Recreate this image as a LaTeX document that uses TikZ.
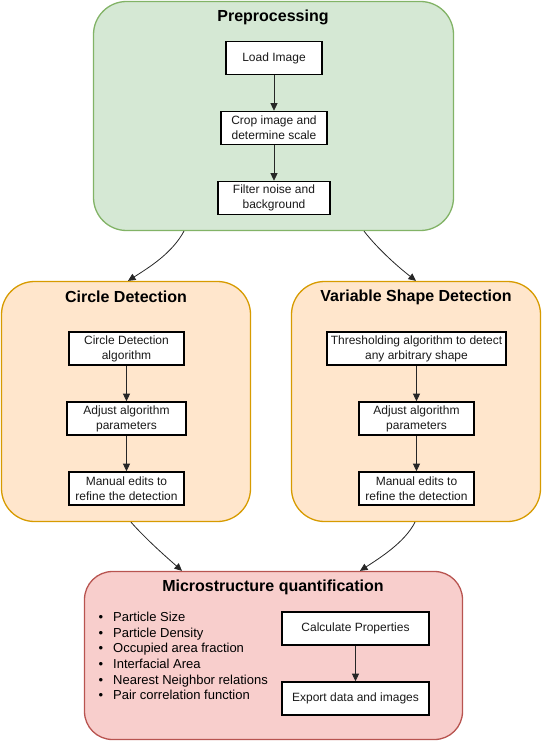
\documentclass[tikz,border=0pt]{standalone}
\usepackage{fontspec}
\setmainfont{Liberation Sans}
\usetikzlibrary{arrows.meta}
\definecolor{greenfill}{HTML}{D5E8D4}
\definecolor{greenline}{HTML}{82B366}
\definecolor{orangefill}{HTML}{FFE6CC}
\definecolor{orangeline}{HTML}{D79B00}
\definecolor{redfill}{HTML}{F8CECC}
\definecolor{redline}{HTML}{B85450}
\definecolor{boxtext}{HTML}{1A1A1A}
\begin{document}
\begin{tikzpicture}[x=1pt,y=-1pt,
  container/.style={draw, line width=1.3pt, inner sep=0pt},
  procbox/.style={draw=black, line width=1.6pt, fill=white, minimum height=33pt,
    inner sep=1pt, align=center, text=boxtext, font=\fontsize{12}{15}\selectfont},
  ttl/.style={font=\fontsize{16}{19}\selectfont\bfseries, inner sep=0pt},
  conn/.style={-{Triangle[length=7.5pt,width=7pt]}, line width=0.8pt, draw=black!85}
]
\useasboundingbox (0,0) rectangle (542,741);

% containers
\node[container, draw=greenline, fill=greenfill, rounded corners=33pt,
      minimum width=360pt, minimum height=229pt] (pre) at (273.5,116) {};
\node[container, draw=orangeline, fill=orangefill, rounded corners=33pt,
      minimum width=249pt, minimum height=240pt] (circ) at (126,401.5) {};
\node[container, draw=orangeline, fill=orangefill, rounded corners=33pt,
      minimum width=249pt, minimum height=240pt] (var) at (416,401.5) {};
\node[container, draw=redline, fill=redfill, rounded corners=28pt,
      minimum width=378pt, minimum height=168pt] (micro) at (273.5,655.5) {};

% titles
\node[ttl] (pretitle) at (273,17) {Preprocessing};
\node[ttl] (circtitle) at (126,297) {Circle Detection};
\node[ttl] (vartitle) at (416,297) {Variable Shape Detection};
\node[ttl] (microtitle) at (273,587) {Microstructure quantification};

% preprocessing steps
\node[procbox, minimum width=95.5pt] (load) at (274,58) {Load Image};
\node[procbox, minimum width=106.5pt] (crop) at (274,128) {Crop image and\\determine scale};
\node[procbox, minimum width=111.5pt] (filt) at (274,198) {Filter noise and\\background};

% circle detection steps
\node[procbox, minimum width=114.5pt] (cda) at (126.5,348.5) {Circle Detection\\algorithm};
\node[procbox, minimum width=119.5pt] (adj1) at (126.5,418.5) {Adjust algorithm\\parameters};
\node[procbox, minimum width=115.5pt] (man1) at (126.5,488.5) {Manual edits to\\refine the detection};

% variable shape steps
\node[procbox, minimum width=179.5pt] (thr) at (416.5,348.5) {Thresholding algorithm to detect\\any arbitrary shape};
\node[procbox, minimum width=115.5pt] (adj2) at (416.5,418.5) {Adjust algorithm\\parameters};
\node[procbox, minimum width=115.5pt] (man2) at (416.5,488.5) {Manual edits to\\refine the detection};

% quantification
\node[procbox, minimum width=147.5pt] (calc) at (355.5,628.5) {Calculate Properties};
\node[procbox, minimum width=147.5pt] (expo) at (355.5,698.5) {Export data and images};

\node[anchor=west, align=left, inner sep=0pt,
      font=\fontsize{13}{15.6}\selectfont] (props) at (98.5,656) {%
  \makebox[14.5pt][l]{•}Particle Size\\
  \makebox[14.5pt][l]{•}Particle Density\\
  \makebox[14.5pt][l]{•}Occupied area fraction\\
  \makebox[14.5pt][l]{•}Interfacial Area\\
  \makebox[14.5pt][l]{•}Nearest Neighbor relations\\
  \makebox[14.5pt][l]{•}Pair correlation function};

% straight connectors
\draw[conn] (load) -- (crop);
\draw[conn] (crop) -- (filt);
\draw[conn] (cda) -- (adj1);
\draw[conn] (adj1) -- (man1);
\draw[conn] (thr) -- (adj2);
\draw[conn] (adj2) -- (man2);
\draw[conn] (calc) -- (expo);

% curved connectors
\draw[conn] ([xshift=-89.5pt]pre.south) .. controls +(-12,22) and +(22,-14) .. ([xshift=2pt]circ.north);
\draw[conn] ([xshift=90.5pt]pre.south) .. controls +(14,18) and +(-18,-14) .. (var.north);
\draw[conn] ([xshift=5pt]circ.south) .. controls +(15,17) and +(-17,-15) .. ([xshift=-91.5pt]micro.north);
\draw[conn] ([xshift=-1pt]var.south) .. controls +(-10,20) and +(20,-13) .. ([xshift=86.5pt]micro.north);
\end{tikzpicture}
\end{document}
